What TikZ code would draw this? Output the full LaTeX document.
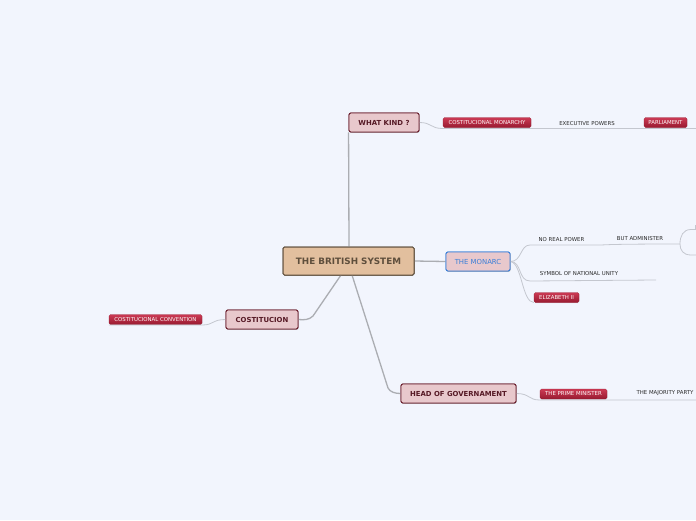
\documentclass[tikz,border=0pt]{standalone}
\usepackage{fontspec}
\setmainfont{DejaVu Sans}
\usetikzlibrary{shadows}
\definecolor{bg}{HTML}{F2F5FD}
\definecolor{peach}{HTML}{E2BF9E}
\definecolor{brownb}{HTML}{5E4E3C}
\definecolor{pinkf}{HTML}{E8C8CC}
\definecolor{maroon}{HTML}{6B1F2E}
\definecolor{bluebd}{HTML}{3A7FD8}
\definecolor{redtop}{HTML}{CC3A54}
\definecolor{redbot}{HTML}{981A30}
\definecolor{mainline}{HTML}{ABADB2}
\definecolor{thinline}{HTML}{C4C7CF}
\definecolor{txt}{HTML}{2A2A2A}
\tikzset{
  central/.style={draw=brownb, line width=1pt, fill=peach, rounded corners=1.5pt,
    minimum width=131pt, minimum height=28pt, inner sep=0pt,
    font=\fontsize{8.8}{10}\selectfont\bfseries, text=brownb,
    drop shadow={shadow xshift=0.6pt, shadow yshift=-0.8pt, opacity=0.25}},
  topicbox/.style={draw=maroon, line width=0.9pt, fill=pinkf, rounded corners=2pt,
    minimum height=19pt, inner sep=0pt,
    font=\fontsize{6.9}{8}\selectfont\bfseries, text=maroon!80!black,
    drop shadow={shadow xshift=0.6pt, shadow yshift=-0.8pt, opacity=0.25}},
  bluebox/.style={draw=bluebd, line width=0.9pt, fill=pinkf, rounded corners=2pt,
    minimum height=19pt, inner sep=0pt,
    font=\fontsize{6.9}{8}\selectfont, text=bluebd,
    drop shadow={shadow xshift=0.6pt, shadow yshift=-0.8pt, opacity=0.25}},
  redtag/.style={top color=redtop, bottom color=redbot, draw=redbot, line width=0.3pt,
    rounded corners=1.5pt, minimum height=10pt, inner sep=0pt,
    font=\fontsize{5.4}{6}\selectfont, text=white!92!pink,
    drop shadow={shadow xshift=0.4pt, shadow yshift=-0.6pt, opacity=0.2}},
  plain/.style={inner sep=0pt, font=\fontsize{5.4}{6}\selectfont, text=txt},
  mainconn/.style={draw=mainline, line width=1.3pt},
  thinconn/.style={draw=thinline, line width=0.8pt},
}
\begin{document}
\begin{tikzpicture}[x=1pt,y=-1pt]
\fill[bg] (0,0) rectangle (696,520);
\useasboundingbox (0,0) rectangle (696,520);

\coordinate (ctop) at (349,247);
\coordinate (cbl) at (341,275);
\coordinate (cbr) at (352,275);

% nodes
\node[central] (c) at (348.5,261) {THE BRITISH SYSTEM};
\node[topicbox, minimum width=70pt] (wk) at (384,122.5) {WHAT KIND ?};
\node[bluebox, minimum width=64pt] (mon) at (478,261.5) {THE MONARC};
\node[topicbox, minimum width=72pt] (cos) at (262,319.5) {COSTITUCION};
\node[topicbox, minimum width=115pt] (hog) at (458.5,393.5) {HEAD OF GOVERNAMENT};

\node[redtag, minimum width=88pt] (cm) at (487,122.5) {COSTITUCIONAL MONARCHY};
\node[plain] (ep) at (587,123.5) {EXECUTIVE POWERS};
\node[redtag, minimum width=43pt] (par) at (665.5,122.5) {PARLIAMENT};

\node[plain] (nrp) at (561.5,239.5) {NO REAL POWER};
\node[plain] (ba) at (640,238.5) {BUT ADMINISTER};
\node[plain] (snu) at (579,274) {SYMBOL OF NATIONAL UNITY};
\node[redtag, minimum width=45pt] (eli) at (556.5,297.5) {ELIZABETH II};

\node[redtag, minimum width=93pt] (cc) at (155.5,319.5) {COSTITUCIONAL CONVENTION};

\node[redtag, minimum width=67pt] (pm) at (573.5,394) {THE PRIME MINISTER};
\node[plain] (mp) at (665,393.5) {THE MAJORITY PARTY};

\coordinate (edgeA) at (696,128.5);
\coordinate (edgeB) at (696,400);
\coordinate (bA) at (680,244);
\coordinate (snuEnd) at (656,280);

% main connectors
\draw[mainconn] (wk.south west) -- (ctop);
\draw[mainconn] (c.east) -- (mon.west);
\draw[mainconn] (cbl) -- (313,316) .. controls (309,320) and (304,320) .. (cos.east);
\draw[mainconn] (cbr) -- (388,388) .. controls (390,392) and (395,393.5) .. (hog.west);

% WHAT KIND branch
\draw[thinconn] (wk.east) .. controls (432,122.5) and (430,128.5) .. (cm.south west|-0,128.5)
  -- (cm.south east|-0,128.5) -- (ep.south east|-0,128.5) -- (par.south east|-0,128.5) -- (edgeA);

% THE MONARC branch
\draw[thinconn] (mon.east) .. controls (522,261.5) and (520,245) .. (530,245) -- (600,245)
  .. controls (605,245) and (605,244) .. (bA);
\draw[thinconn] (mon.east) .. controls (522,261.5) and (518,281) .. (530,281) -- (snuEnd);
\draw[thinconn] (mon.east) .. controls (522,263) and (522,302.5) .. (eli.south west|-0,302.5);
% bracket at the right edge
\draw[thinconn] (696,229.5) -- (691,229.5) .. controls (683,229.5) and (680,236) .. (bA)
  .. controls (680,250) and (683,255) .. (691,255) -- (696,255);
\draw[thinconn] (695.5,225) -- (695.5,229.5);

% COSTITUCION branch
\draw[thinconn] (cos.west) .. controls (212,319.5) and (214,325) .. (cc.south east|-0,325) -- (cc.south west|-0,325);

% HEAD OF GOVERNAMENT branch
\draw[thinconn] (hog.east) .. controls (530,393.5) and (528,400) .. (pm.south west|-0,400) -- (pm.south east|-0,400) -- (edgeB);

% redraw nodes above lines
\node[central] at (348.5,261) {THE BRITISH SYSTEM};
\node[topicbox, minimum width=70pt] at (384,122.5) {WHAT KIND ?};
\node[bluebox, minimum width=64pt] at (478,261.5) {THE MONARC};
\node[topicbox, minimum width=72pt] at (262,319.5) {COSTITUCION};
\node[topicbox, minimum width=115pt] at (458.5,393.5) {HEAD OF GOVERNAMENT};
\end{tikzpicture}
\end{document}
